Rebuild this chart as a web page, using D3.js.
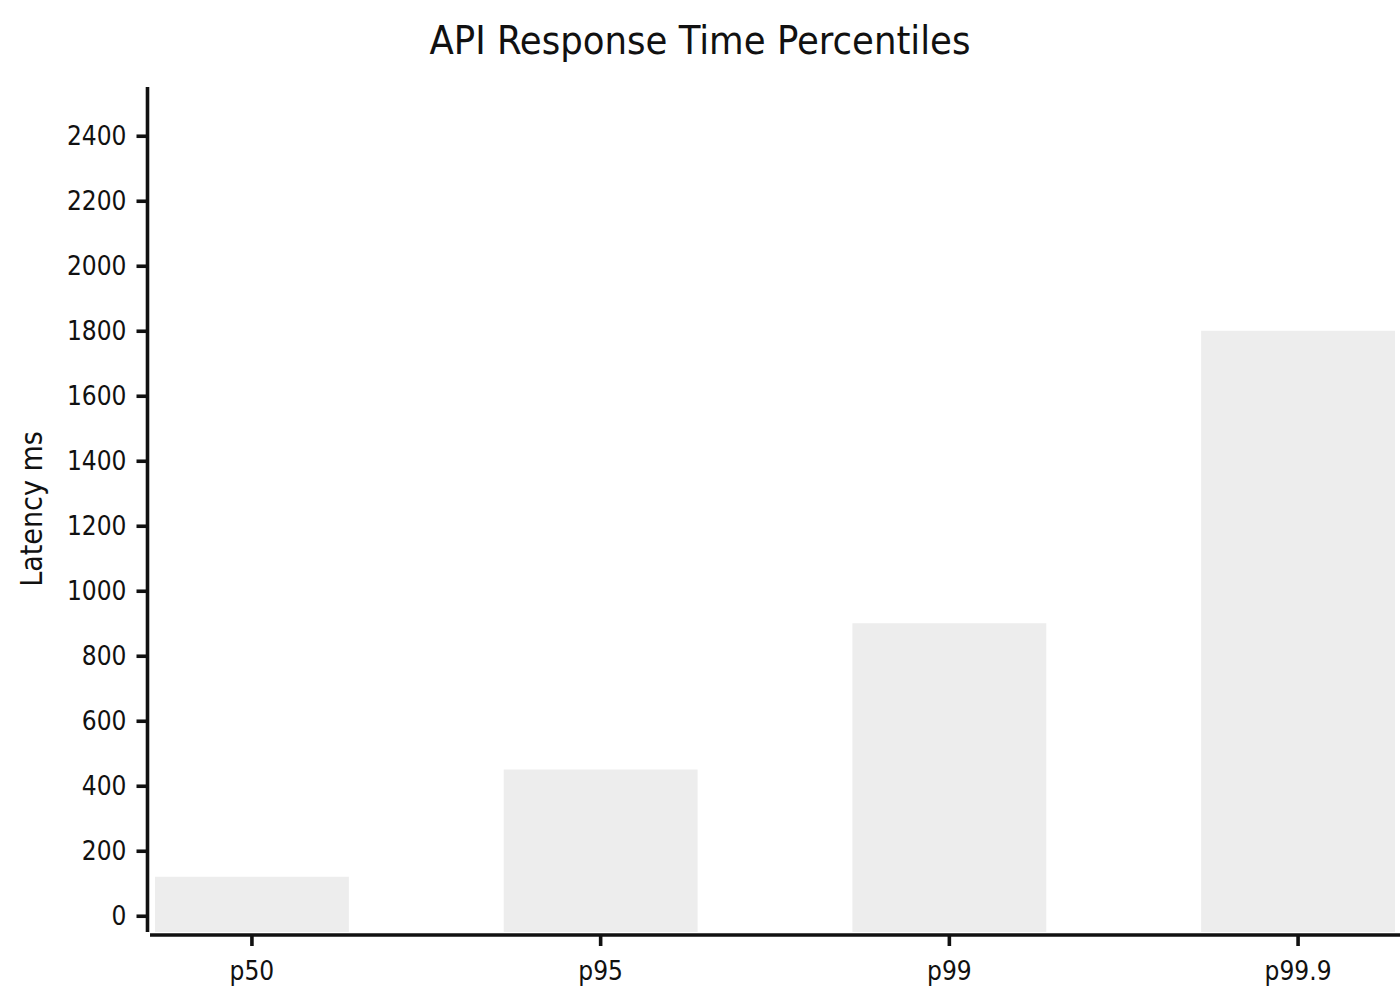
<!DOCTYPE html>
<html>
<head>
<meta charset="utf-8">
<script src="https://cdn.jsdelivr.net/npm/d3@7"></script>
<style>
  body { margin: 0; background: #fff; }
  text { font-family: "DejaVu Sans Condensed", "DejaVu Sans", sans-serif; font-stretch: condensed; fill: #111; }
</style>
</head>
<body>
<div id="chart"></div>
<script>
// Chart data
const percentiles = ["p50", "p95", "p99", "p99.9"];
const latencyMs = [120, 450, 900, 1800];
const yTicks = [0, 200, 400, 600, 800, 1000, 1200, 1400, 1600, 1800, 2000, 2200, 2400];

const chartTitle = "API Response Time Percentiles";
const yLabel = "Latency ms";

const W = 1400, H = 1000;

const svg = d3.select("#chart")
  .append("svg")
  .attr("width", W)
  .attr("height", H);

// Scales
const xScale = d3.scaleBand()
  .domain(percentiles)
  .range([150, 1400])
  .paddingInner(0.444)
  .paddingOuter(0.0143);

const yScale = d3.scaleLinear()
  .domain([-50, 2550])
  .range([932, 87]);

// Bars
svg.selectAll(".bar")
  .data(percentiles.map((p, i) => ({ p, v: latencyMs[i] })))
  .enter()
  .append("rect")
  .attr("class", "bar")
  .attr("x", d => xScale(d.p))
  .attr("y", d => yScale(d.v))
  .attr("width", xScale.bandwidth())
  .attr("height", d => yScale(-50) - yScale(d.v))
  .attr("fill", "#ededed");

// Y axis
const yAxis = svg.append("g")
  .attr("transform", "translate(147.5,0)")
  .call(d3.axisLeft(yScale).tickValues(yTicks).tickSize(11).tickPadding(10).tickFormat(d3.format("d")));

// X axis (offset slightly below the y axis)
const xAxis = svg.append("g")
  .attr("transform", "translate(0,935)")
  .call(d3.axisBottom(xScale).tickSize(11).tickPadding(16));

[yAxis, xAxis].forEach(g => {
  g.select(".domain").attr("stroke", "#111").attr("stroke-width", 3.6);
  g.selectAll(".tick line").attr("stroke", "#111").attr("stroke-width", 3.6);
  g.selectAll(".tick text")
    .attr("fill", "#111")
    .style("font-size", "26px")
    .style("font-family", "'DejaVu Sans Condensed', 'DejaVu Sans', sans-serif");
});

// remove outer tick stubs of the domain path
yAxis.select(".domain").attr("d", `M0,${yScale(-50)}V${yScale(2550)}`);
xAxis.select(".domain").attr("d", "M150,0H1400");

// Title
svg.append("text")
  .attr("x", 700)
  .attr("y", 54)
  .attr("text-anchor", "middle")
  .style("font-size", "39.5px")
  .text(chartTitle);

// Y label
svg.append("text")
  .attr("transform", "translate(42,509) rotate(-90)")
  .attr("text-anchor", "middle")
  .style("font-size", "30px")
  .text(yLabel);
</script>
</body>
</html>
